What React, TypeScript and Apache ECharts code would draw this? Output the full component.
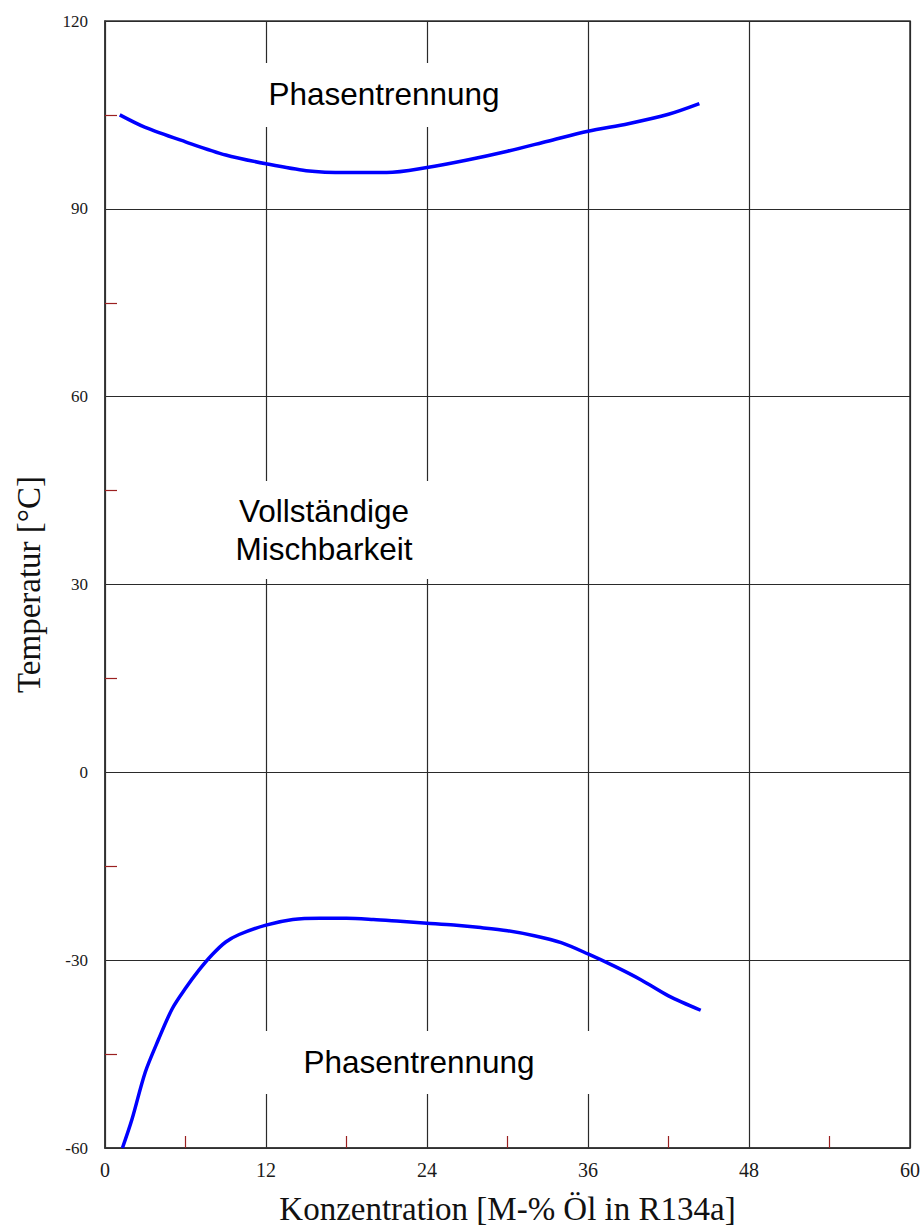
import React, { useEffect, useRef } from "react";
import * as echarts from "echarts";

// Upper miscibility boundary (phase separation above)
const upperX = [1.1, 3, 6, 9, 12, 15, 18, 21, 24, 27, 30, 33, 36, 39, 42, 44.3];
const upperT = [105, 103.0, 100.7, 98.6, 97.2, 96.1, 95.8, 95.8, 96.6, 97.8, 99.2, 100.8, 102.4, 103.6, 105.1, 106.8];

// Lower miscibility boundary (phase separation below)
const lowerX = [1.3, 2, 3, 4, 5, 6, 7, 8, 9, 10, 12, 14, 16, 18, 20, 22, 24, 26, 28, 30, 32, 34, 36, 38, 40, 42, 44.4];
const lowerT = [-60, -55.5, -47.9, -42.6, -37.8, -34.5, -31.6, -29.1, -27.1, -25.9, -24.4, -23.5, -23.3, -23.3, -23.5, -23.8, -24.1, -24.4, -24.8, -25.3, -26.1, -27.2, -29.0, -31.0, -33.2, -35.7, -38.0];

const xTicks = { min: 0, max: 60, interval: 12 };
const yTicks = { min: -60, max: 120, interval: 30 };

const xTitle = "Konzentration [M-% Öl in R134a]";
const yTitle = "Temperatur [°C]";
const regionTop = "Phasentrennung";
const regionMid = "Vollständige\nMischbarkeit";
const regionBottom = "Phasentrennung";

const SERIF = "'Times New Roman', 'Liberation Serif', serif";
const SANS = "Arial, 'Liberation Sans', sans-serif";

export default function App() {
  const ref = useRef<HTMLDivElement>(null);

  useEffect(() => {
    if (!ref.current) return;
    const chart = echarts.init(ref.current, undefined, { renderer: "svg" });

    const zip = (xs: number[], ys: number[]) => xs.map((x, i) => [x, ys[i]]);

    const axisCommon = {
      axisTick: { show: true, inside: true, length: 1, lineStyle: { color: "#333" } },
      minorTick: { show: true, splitNumber: 2, length: 12, lineStyle: { color: "#9b2020", width: 1.2 } },
      splitLine: { show: true, lineStyle: { color: "#2a2a2a", width: 1.2 } },
    };

    const regionText = (text: string, x: number, y: number, lh: number) => ({
      type: "text",
      x,
      y,
      z: 2,
      style: {
        text,
        fill: "#000",
        fontSize: 31.5,
        fontFamily: SANS,
        lineHeight: lh,
        align: "center",
        verticalAlign: "middle",
      },
    });

    const whiteBox = (x: number, y: number, w: number, h: number) => ({
      type: "rect",
      z: 1,
      shape: { x, y, width: w, height: h },
      style: { fill: "#fff" },
    });

    chart.setOption({
      animation: false,
      backgroundColor: "#fff",
      grid: {
        left: 105,
        right: 10,
        top: 21,
        bottom: 77,
        show: true,
        borderColor: "#333",
        borderWidth: 1.5,
        backgroundColor: "transparent",
      },
      xAxis: {
        type: "value",
        ...xTicks,
        ...axisCommon,
        axisLine: { show: true, onZero: false, lineStyle: { color: "#333", width: 1.5 } },
        axisLabel: { fontFamily: SERIF, fontSize: 20, color: "#1a1a1a", margin: 12 },
        name: xTitle,
        nameLocation: "middle",
        nameGap: 44,
        nameTextStyle: { fontFamily: SERIF, fontSize: 33, color: "#111" },
      },
      yAxis: {
        type: "value",
        ...yTicks,
        ...axisCommon,
        axisLine: { show: true, onZero: false, lineStyle: { color: "#333", width: 1.5 } },
        axisLabel: { fontFamily: SERIF, fontSize: 17, color: "#1a1a1a", margin: 17 },
        name: yTitle,
        nameLocation: "middle",
        nameGap: 60,
        nameTextStyle: { fontFamily: SERIF, fontSize: 33, color: "#111" },
      },
      graphic: {
        elements: [
          whiteBox(240, 63, 290, 64),
          whiteBox(220, 481, 220, 98),
          whiteBox(256, 1031, 345, 63),
          regionText(regionTop, 384, 94, 36),
          regionText(regionMid, 324, 530, 38),
          regionText(regionBottom, 419, 1062, 36),
        ],
      },
      series: [
        {
          type: "line",
          data: zip(upperX, upperT),
          smooth: 0.3,
          showSymbol: false,
          lineStyle: { color: "#0000ff", width: 3.5 },
          z: 3,
        },
        {
          type: "line",
          data: zip(lowerX, lowerT),
          smooth: 0.3,
          showSymbol: false,
          lineStyle: { color: "#0000ff", width: 3.5 },
          z: 3,
        },
      ],
    });

    return () => chart.dispose();
  }, []);

  return (
    <div
      ref={ref}
      style={{ position: "fixed", left: 0, top: 0, width: 923, height: 1230, background: "#fff" }}
    />
  );
}
